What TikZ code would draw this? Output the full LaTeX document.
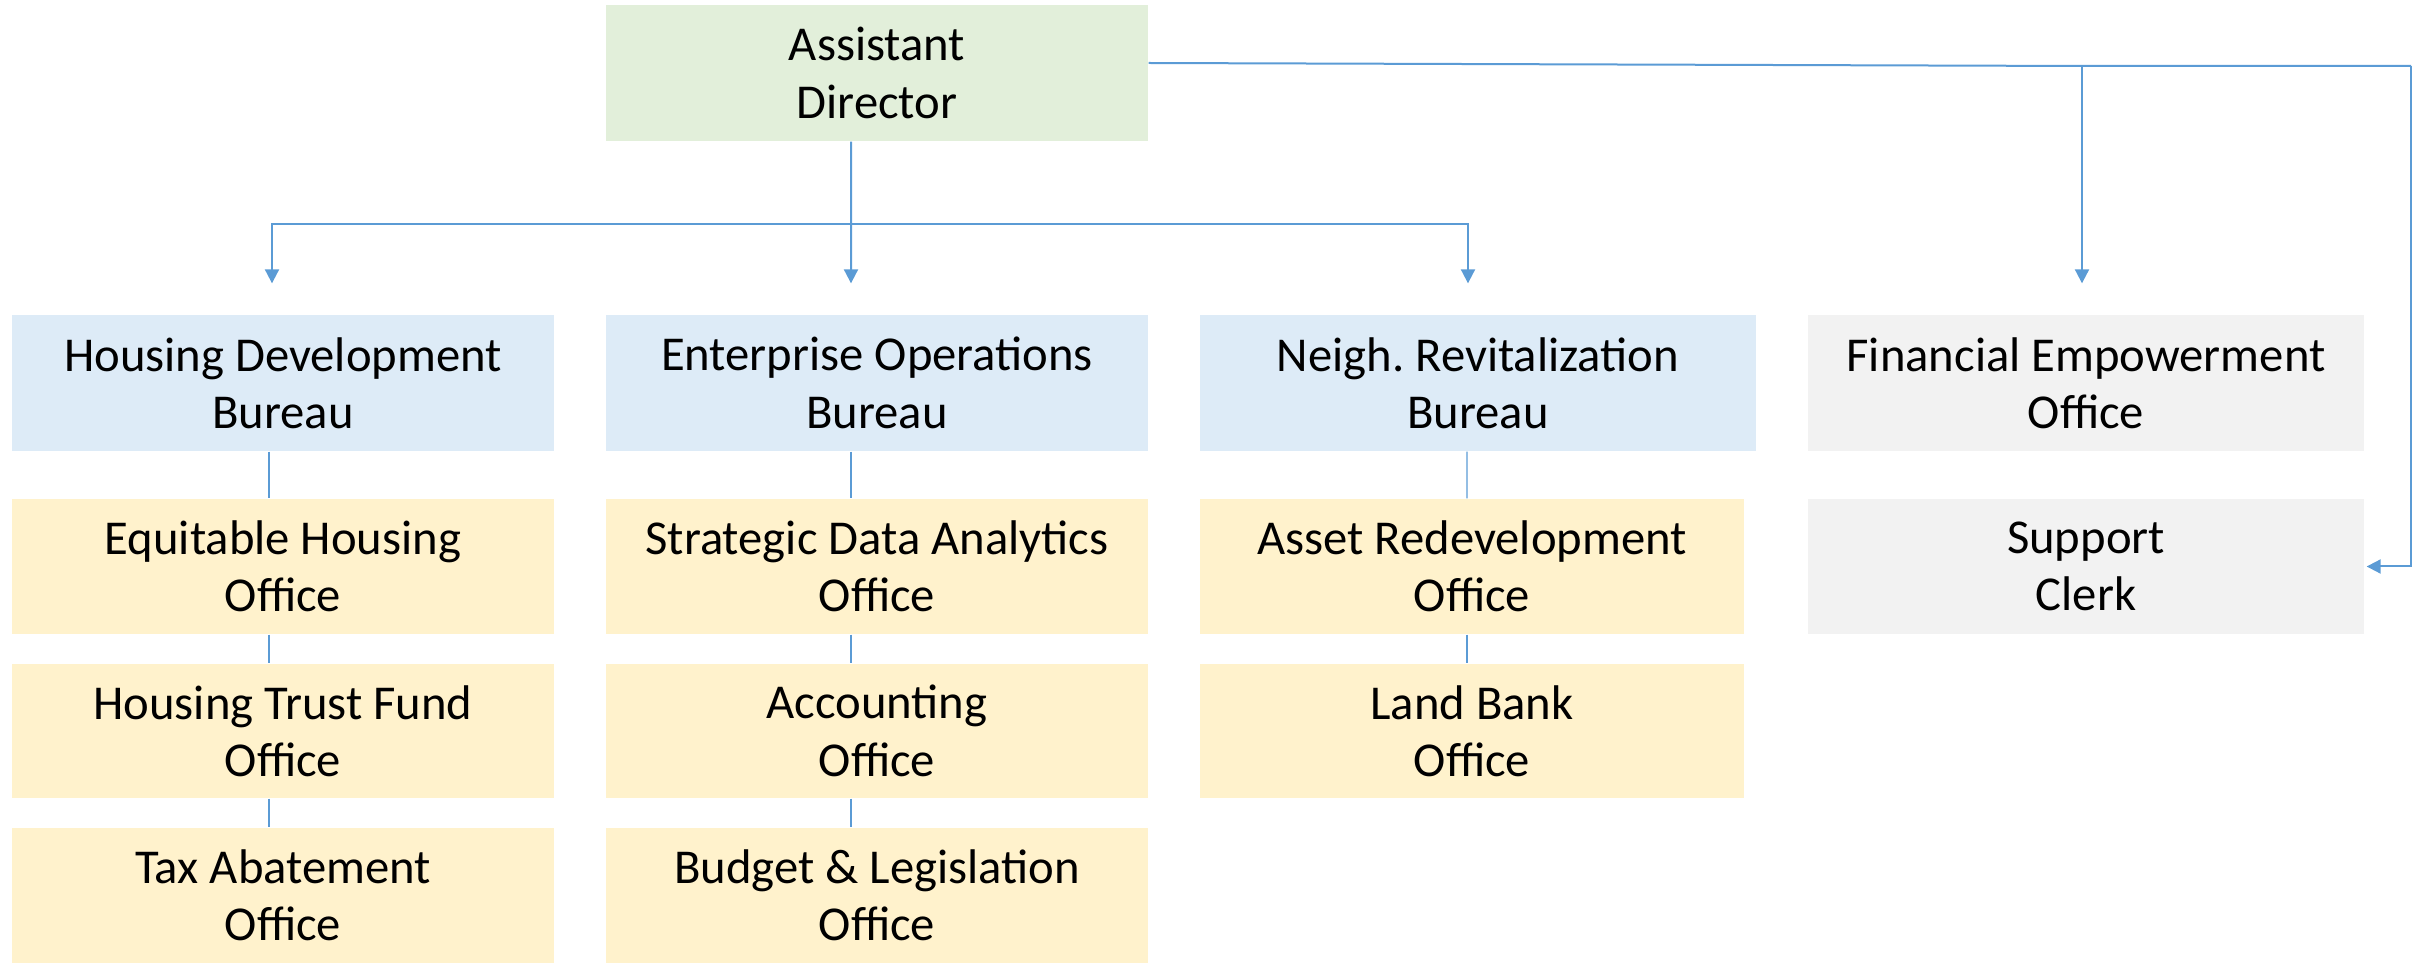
\documentclass[tikz,border=0pt]{standalone}
\usepackage{fontspec}
\setmainfont{Carlito}
\usetikzlibrary{arrows.meta}
\definecolor{dirgreen}{HTML}{E2EFDA}
\definecolor{burblue}{HTML}{DDEBF7}
\definecolor{offyellow}{HTML}{FFF2CC}
\definecolor{staffgrey}{HTML}{F2F2F2}
\definecolor{linkblue}{HTML}{5B9BD5}
\tikzset{
  unit/.style={inner sep=0pt,align=center,font=\fontsize{14.6}{17.2}\selectfont,
    minimum width=162.6pt,minimum height=40.8pt},
  director/.style={unit,fill=dirgreen},
  bureau/.style={unit,fill=burblue},
  office/.style={unit,fill=offyellow,minimum height=40.5pt},
  staff/.style={unit,fill=staffgrey,minimum width=166.8pt},
  tip/.style={-{Triangle[length=4.2pt,width=4.2pt]},shorten >=9.3pt}
}
\begin{document}
\frenchspacing
\begin{tikzpicture}[x=0.3pt,y=-0.3pt]
  \useasboundingbox (0,0) rectangle (2428,964);
  \draw
    (877,73) node[director] (ad){Assistant\\Director}
    (283,383) node[bureau] (hdb){Housing Development\\Bureau}
    (877,383) node[bureau] (eob){Enterprise Operations\\Bureau}
    (1478,383) node[bureau,minimum width=166.8pt] (nrb){Neigh. Revitalization\\Bureau}
    (2086,383) node[staff] (feo){Financial Empowerment\\Office}
    (283,566.5) node[office] (eho){Equitable Housing\\Office}
    (877,566.5) node[office] (sda){Strategic Data Analytics\\Office}
    (1472,566.5) node[office,minimum width=163.2pt] (aro){Asset Redevelopment\\Office}
    (2086,566.5) node[staff,minimum height=40.5pt] (sc){Support\\Clerk}
    (283,731) node[office,minimum height=40.2pt] (htf){Housing Trust Fund\\Office}
    (877,731) node[office,minimum height=40.2pt] (acc){Accounting\\Office}
    (1472,731) node[office,minimum width=163.2pt,minimum height=40.2pt] (lbo){Land Bank\\Office}
    (283,895.5) node[office] (tax){Tax Abatement\\Office}
    (877,895.5) node[office] (blo){Budget \& Legislation\\Office};
  \begin{scope}[linkblue,line width=0.6pt]
    \coordinate (bus) at (851,224);
    \coordinate (fork) at (2082,66);
    \coordinate (corner) at (2411,66);
    \draw ([xshift=-7.8pt]ad.south) -- (bus);
    \draw[tip] (bus) -- ([xshift=-7.8pt]eob.north);
    \draw[tip] (bus) -| ([xshift=-3.3pt]hdb.north);
    \draw[tip] (bus) -| ([xshift=-3pt]nrb.north);
    \draw ([yshift=3pt]ad.east) -- (fork) -- (corner);
    \draw[tip] (fork) -- (fork |- feo.north);
    \draw[tip,shorten >=0.6pt] (corner) |- (sc.east);
  \end{scope}
  \begin{scope}[linkblue,line width=0.4pt]
    \draw ([xshift=-4.2pt]hdb.south) -- ([xshift=-4.2pt]eho.north);
    \draw ([xshift=-4.2pt]eho.south) -- ([xshift=-4.2pt]htf.north);
    \draw ([xshift=-4.2pt]htf.south) -- ([xshift=-4.2pt]tax.north);
    \draw ([xshift=-7.8pt]eob.south) -- ([xshift=-7.8pt]sda.north);
    \draw ([xshift=-7.8pt]sda.south) -- ([xshift=-7.8pt]acc.north);
    \draw ([xshift=-7.8pt]acc.south) -- ([xshift=-7.8pt]blo.north);
    \draw ([xshift=-3.3pt]nrb.south) -- ([xshift=-1.5pt]aro.north);
    \draw ([xshift=-1.5pt]aro.south) -- ([xshift=-1.5pt]lbo.north);
  \end{scope}
\end{tikzpicture}
\end{document}
